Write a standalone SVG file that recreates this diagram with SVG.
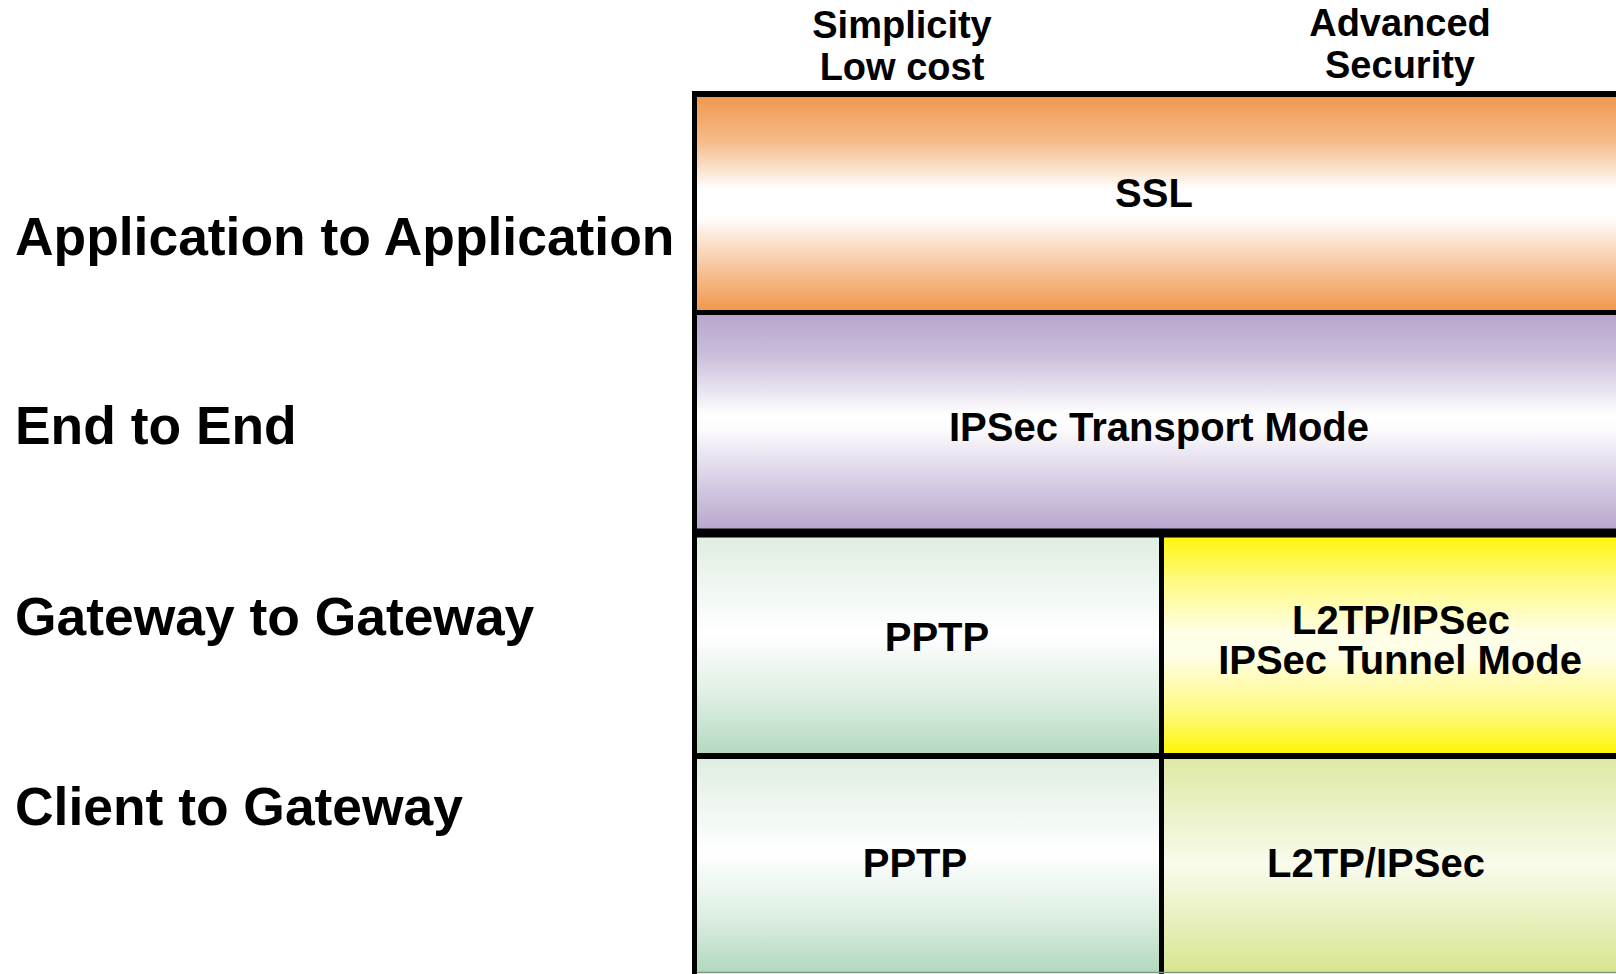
<svg xmlns="http://www.w3.org/2000/svg" width="1616" height="974" viewBox="0 0 1616 974">
  <defs>
    <linearGradient id="gOrange" x1="0" y1="0" x2="0" y2="1">
      <stop offset="0" stop-color="#EF964B"/>
      <stop offset="0.22" stop-color="#F6BC8A"/>
      <stop offset="0.44" stop-color="#FFFFFF"/>
      <stop offset="0.56" stop-color="#FFFFFF"/>
      <stop offset="0.8" stop-color="#F7C49A"/>
      <stop offset="1" stop-color="#EF964B"/>
    </linearGradient>
    <linearGradient id="gPurple" x1="0" y1="0" x2="0" y2="1">
      <stop offset="0" stop-color="#B6A4CC"/>
      <stop offset="0.2" stop-color="#CBBFDC"/>
      <stop offset="0.47" stop-color="#FFFFFF"/>
      <stop offset="0.53" stop-color="#FCFBFD"/>
      <stop offset="0.8" stop-color="#D2C8E1"/>
      <stop offset="1" stop-color="#B6A4CC"/>
    </linearGradient>
    <linearGradient id="gGreen" x1="0" y1="0" x2="0" y2="1">
      <stop offset="0" stop-color="#DEEDE1"/>
      <stop offset="0.45" stop-color="#FFFFFF"/>
      <stop offset="0.75" stop-color="#DCEEE1"/>
      <stop offset="1" stop-color="#B1D8BE"/>
    </linearGradient>
    <linearGradient id="gYellow" x1="0" y1="0" x2="0" y2="1">
      <stop offset="0" stop-color="#FFF500"/>
      <stop offset="0.2" stop-color="#FFFA7A"/>
      <stop offset="0.45" stop-color="#FFFEE8"/>
      <stop offset="0.55" stop-color="#FFFEE6"/>
      <stop offset="0.8" stop-color="#FFFA80"/>
      <stop offset="1" stop-color="#FFF500"/>
    </linearGradient>
    <linearGradient id="gLime" x1="0" y1="0" x2="0" y2="1">
      <stop offset="0" stop-color="#DDE8A2"/>
      <stop offset="0.5" stop-color="#F9FBEC"/>
      <stop offset="1" stop-color="#D7E58F"/>
    </linearGradient>
  </defs>
  <style>
    .lbl { font-family: "Liberation Sans", Arial, sans-serif; font-weight: bold; fill: #000; }
    .row { font-size: 53.4px; }
    .head { font-size: 38px; text-anchor: middle; }
    .cell { font-size: 40px; text-anchor: middle; }
    .edge { stroke: #000; fill: none; }
  </style>

  <rect width="1616" height="974" fill="#FFFFFF"/>

  <!-- column headings -->
  <g id="col-simplicity">
    <text class="lbl head" x="902" y="38">Simplicity</text>
    <text class="lbl head" x="902" y="80">Low cost</text>
  </g>
  <g id="col-security">
    <text class="lbl head" x="1400" y="36">Advanced</text>
    <text class="lbl head" x="1400" y="78">Security</text>
  </g>

  <!-- row headings -->
  <g id="row-app">
    <text class="lbl row" x="15" y="255">Application to Application</text>
  </g>
  <g id="row-e2e">
    <text class="lbl row" x="15" y="444">End to End</text>
  </g>
  <g id="row-g2g">
    <text class="lbl row" x="15" y="635">Gateway to Gateway</text>
  </g>
  <g id="row-c2g">
    <text class="lbl row" x="15" y="825">Client to Gateway</text>
  </g>

  <!-- cells -->
  <g id="cell-ssl">
    <rect x="694" y="94" width="930" height="218" fill="url(#gOrange)"/>
    <text class="lbl cell" x="1154" y="207">SSL</text>
  </g>
  <g id="cell-ipsec-transport">
    <rect x="694" y="312" width="930" height="221" fill="url(#gPurple)"/>
    <text class="lbl cell" x="1159" y="441">IPSec Transport Mode</text>
  </g>
  <g id="cell-g2g-pptp">
    <rect x="694" y="533" width="467" height="223" fill="url(#gGreen)"/>
    <text class="lbl cell" x="937" y="651">PPTP</text>
  </g>
  <g id="cell-g2g-l2tp">
    <rect x="1161" y="533" width="463" height="223" fill="url(#gYellow)"/>
    <text class="lbl cell" x="1401" y="634">L2TP/IPSec</text>
    <text class="lbl cell" x="1400" y="674">IPSec Tunnel Mode</text>
  </g>
  <g id="cell-c2g-pptp">
    <rect x="694" y="756" width="467" height="217" fill="url(#gGreen)"/>
    <text class="lbl cell" x="915" y="877">PPTP</text>
  </g>
  <g id="cell-c2g-l2tp">
    <rect x="1161" y="756" width="463" height="217" fill="url(#gLime)"/>
    <text class="lbl cell" x="1376" y="877">L2TP/IPSec</text>
  </g>

  <!-- grid lines -->
  <g id="connectors">
    <line class="edge" x1="694.5" y1="91" x2="694.5" y2="974" stroke-width="5"/>
    <line class="edge" x1="692" y1="94" x2="1616" y2="94" stroke-width="6"/>
    <line class="edge" x1="692" y1="312.5" x2="1616" y2="312.5" stroke-width="5"/>
    <line class="edge" x1="692" y1="533" x2="1616" y2="533" stroke-width="9"/>
    <line class="edge" x1="692" y1="756" x2="1616" y2="756" stroke-width="6"/>
    <line class="edge" x1="1161.5" y1="533" x2="1161.5" y2="974" stroke-width="5"/>
    <line x1="697" y1="972.5" x2="1616" y2="972.5" stroke="#7C9A80" stroke-width="1.5"/>
  </g>
</svg>
